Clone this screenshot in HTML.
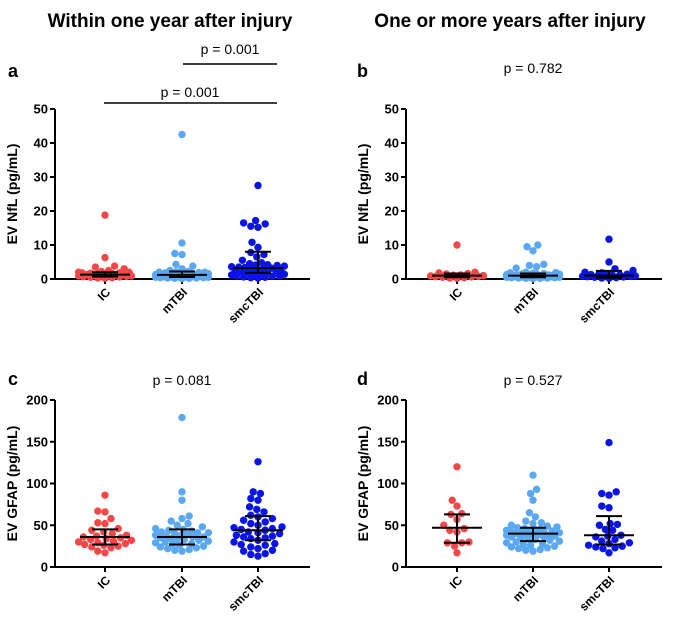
<!DOCTYPE html>
<html><head><meta charset="utf-8">
<style>
body{margin:0;background:#fff;}
svg{display:block;font-family:"Liberation Sans",Arial,sans-serif;}
</style></head>
<body>
<svg id="fig" width="685" height="617" viewBox="0 0 685 617">
<text x="170" y="27" font-size="19" font-weight="bold" text-anchor="middle">Within one year after injury</text>
<text x="510" y="27" font-size="19" font-weight="bold" text-anchor="middle">One or more years after injury</text>
</svg>
<script>
const groups = ["IC","mTBI","smcTBI"];
const nflTicks = [0,10,20,30,40,50];
const gfapTicks = [0,50,100,150,200];
// Panel a: NfL within one year
const aIC = [18.8,6.3,3.8,3.5,3,2.5,2.2,2,2,1.8,1.8,1.7,1.6,1.5,1.4,1.3,1.3,1.2,1.1,1,1,0.9,0.9,0.8,0.7,0.6,0.5,0.4,0.3,0.2];
const aMTBI = [42.5,10.6,7.5,7.2,4.3,3.8,3,2.5,2.2,2.1,2,2,1.9,1.8,1.7,1.6,1.5,1.5,1.4,1.3,1.2,1.2,1.1,1,1,1,0.9,0.9,0.8,0.8,0.7,0.7,0.6,0.6,0.6,0.5,0.5,0.4,0.4,0.3,0.3,0.2,0.2,0.1];
const aSMC = [27.5,17.2,16.5,16.2,15.5,15.2,10.8,9.3,7.8,7.2,6.5,5.5,4.8,4.5,4.2,4.1,4,3.8,3.6,3.5,3.4,3.2,3.2,3,2.8,2.6,2.5,2.4,2.2,2,1.9,1.8,1.6,1.4,1.2,1,0.9,0.8,0.6,0.5,0.4,0.3];
const aStats = [[1.3,0.7,2.0],[1.2,0.6,2.2],[3.2,1.8,8.0]];
// Panel b: NfL one or more years
const bIC = [10,2,1.8,1.6,1.5,1.2,1.1,1,0.9,0.8,0.7,0.6,0.5,0.4,0.3,0.2];
const bMTBI = [10,9.5,8.3,4.3,4,3.6,3.2,2,1.9,1.8,1.7,1.6,1.5,1.5,1.4,1.3,1.3,1.2,1.2,1.1,1.1,1,1,1,0.9,0.9,0.9,0.8,0.8,0.8,0.7,0.7,0.7,0.6,0.6,0.6,0.5,0.5,0.5,0.4,0.4,0.3,0.3,0.2,0.2,0.1];
const bSMC = [11.7,5,3,2.5,2,1.8,1.5,1.4,1.3,1.2,1.1,1,1,0.9,0.8,0.8,0.7,0.6,0.5,0.4,0.3,0.2];
const bStats = [[1.0,0.5,1.6],[1.0,0.5,1.6],[1.0,0.4,2.4]];
// Panel c: GFAP within one year
const cIC = [86,67,66,58,53,52,46,44,42,40,38,37,36,35,34,33,32,31,30,29,28,27,26,25,24,23,19,17];
const cMTBI = [179,90,80,61,58,55,52,50,48,46,45,44,43,42,41,41,40,39,38,38,37,36,36,35,34,33,33,32,31,30,29,28,27,26,25,24,23,22,21,20,19];
const cSMC = [126,90,88,82,80,72,69,66,62,60,58,56,54,52,50,48,47,46,45,44,42,41,40,38,37,36,35,34,32,30,28,27,26,24,22,20,19,16,15,13];
const cStats = [[36,27,45],[36,27,45],[44,32,61]];
// Panel d: GFAP one or more years
const dIC = [120,80,73,64,63,57,50,46,44,42,30,29,29,25,17];
const dMTBI = [110,93,88,80,65,60,55,53,52,50,49,48,47,46,45,44,44,43,43,42,42,41,41,40,40,39,39,38,38,37,36,36,35,34,33,32,31,30,29,28,27,26,25,24,23,22,21,20,19];
const dSMC = [149,90,88,86,73,71,52,51,50,45,44,38,37,36,33,31,29,28,26,25,24,23,22,17];
const dStats = [[47,29,63],[40,31,47],[38,27,61]];

const colors = ["#f44848","#5aa8f2","#0a14e6"];
const NS = "http://www.w3.org/2000/svg";
const svg = document.getElementById("fig");
function mk(tag, attrs, parent){const e=document.createElementNS(NS,tag);for(const k in attrs)e.setAttribute(k,attrs[k]);(parent||svg).appendChild(e);return e;}

function panel(cfg){
  const g = mk("g",{});
  
  
  const x0=cfg.x0, x1=cfg.x1, yb=cfg.yb, yt=cfg.yt, max=cfg.ticks[cfg.ticks.length-1];
  const ys = v => yb - (v/max)*(yb-yt);
  const gx = cfg.gx;
  const ya = mk("line",{x1:x0,y1:yt,x2:x0,y2:yb,stroke:"#000","stroke-width":2},g);
  
  
  const xa = mk("line",{x1:x0-1,y1:yb,x2:x1,y2:yb,stroke:"#000","stroke-width":2},g);
  
  
  cfg.ticks.forEach(t=>{
    mk("line",{x1:x0-5,y1:ys(t),x2:x0,y2:ys(t),stroke:"#000","stroke-width":2},g);
    const tl = mk("text",{x:x0-7,y:ys(t)+4.5,"font-size":13,"font-weight":"bold","text-anchor":"end"},g);
    tl.textContent=t;
    
    
  });
  const yl = mk("text",{transform:`translate(${x0-38},${(yt+yb)/2}) rotate(-90)`,"font-size":14,"font-weight":"bold","text-anchor":"middle"},g);
  yl.textContent=cfg.ylabel;
  
  
  const maxW = 27;
  groups.forEach((name,i)=>{
    mk("line",{x1:gx[i],y1:yb,x2:gx[i],y2:yb+5,stroke:"#000","stroke-width":2},g);
    const xl = mk("text",{transform:`translate(${gx[i]+6},${yb+14}) rotate(-45)`,"font-size":12,"font-weight":"bold","text-anchor":"end"},g);
    xl.textContent=name;
    
    
    const r=3.7, d=2*r;
    const vals=cfg.data[i].slice().sort((a,b)=>a-b);
    const placed=[];
    vals.forEach(v=>{
      const py=ys(v);
      let best=0, bestD=-1, found=false;
      for(let k=0;k<=2*Math.floor(maxW/1.2);k++){
        const cand = (k%2===0?1:-1)*Math.ceil(k/2)*1.2;
        if(Math.abs(cand)>maxW) continue;
        let md=Infinity;
        placed.forEach(p=>{const dd=(p[0]-cand)**2+(p[1]-py)**2; if(dd<md) md=dd;});
        if(md>=d*d*0.92){best=cand;found=true;break;}
        if(md>bestD){bestD=md;best=cand;}
      }
      placed.push([best,py]);
      const c = mk("circle",{cx:gx[i]+best,cy:py,r:r,fill:colors[i]},g);
      
      
    });
    const s=cfg.stats[i];
    const eb = mk("g",{stroke:"#000","stroke-width":2},g);
    
    
    mk("line",{x1:gx[i]-25,y1:ys(s[0]),x2:gx[i]+25,y2:ys(s[0])},eb);
    mk("line",{x1:gx[i],y1:ys(s[1]),x2:gx[i],y2:ys(s[2])},eb);
    mk("line",{x1:gx[i]-13,y1:ys(s[1]),x2:gx[i]+13,y2:ys(s[1])},eb);
    mk("line",{x1:gx[i]-13,y1:ys(s[2]),x2:gx[i]+13,y2:ys(s[2])},eb);
  });
  const L = mk("text",{x:cfg.lx,y:cfg.ly,"font-size":18,"font-weight":"bold"},g);
  L.textContent=cfg.letter;
  
  
  cfg.pvals.forEach(p=>{
    const t=mk("text",{x:p.tx,y:p.ty,"font-size":14,"text-anchor":"middle"},g);
    t.textContent=p.text;
    
    
    if(p.l){
      const ln=mk("line",{x1:p.l[0],y1:p.l[2],x2:p.l[1],y2:p.l[2],stroke:"#000","stroke-width":1.5},g);
      
      
    }
  });
}
panel({name:"panel-a",letter:"a",lx:8,ly:77,x0:55,x1:310,yb:279,yt:109,ticks:nflTicks,gx:[105,182,258],data:[aIC,aMTBI,aSMC],stats:aStats,ylabel:"EV NfL  (pg/mL)",
  pvals:[{text:"p = 0.001",tx:230,ty:54,l:[183,277,64]},{text:"p = 0.001",tx:190,ty:97,l:[104,277,103]}]});
panel({name:"panel-b",letter:"b",lx:357,ly:77,x0:406,x1:662,yb:279,yt:109,ticks:nflTicks,gx:[457,533,609],data:[bIC,bMTBI,bSMC],stats:bStats,ylabel:"EV NfL  (pg/mL)",
  pvals:[{text:"p = 0.782",tx:533,ty:73}]});
panel({name:"panel-c",letter:"c",lx:8,ly:385,x0:55,x1:310,yb:567,yt:400,ticks:gfapTicks,gx:[105,182,258],data:[cIC,cMTBI,cSMC],stats:cStats,ylabel:"EV GFAP (pg/mL)",
  pvals:[{text:"p = 0.081",tx:182,ty:385}]});
panel({name:"panel-d",letter:"d",lx:357,ly:385,x0:406,x1:662,yb:567,yt:400,ticks:gfapTicks,gx:[457,533,609],data:[dIC,dMTBI,dSMC],stats:dStats,ylabel:"EV GFAP (pg/mL)",
  pvals:[{text:"p = 0.527",tx:533,ty:385}]});
</script>
</body></html>
